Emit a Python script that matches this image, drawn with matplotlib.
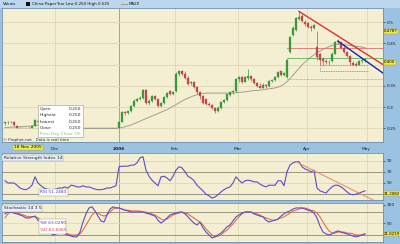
import matplotlib
matplotlib.use('Agg')
import matplotlib.pyplot as plt
from matplotlib.patches import Rectangle
import numpy as np

# ---------------- data ----------------
opens = [0.262,0.264,0.266,0.266,0.256,0.252,0.250,0.250,0.250,0.252,
         0.255,0.268,0.264,0.260,0.258,0.256,0.255,0.252,0.250,0.252,
         0.250,0.250,0.250,0.250,0.250,0.250,0.250,0.250,0.250,0.250,
         0.250,0.250,0.250,0.250,0.250,0.250,0.250,0.250,0.252,0.265,
         0.288,0.285,0.290,0.302,0.315,0.320,0.322,0.340,0.310,0.315,
         0.325,0.318,0.302,0.310,0.324,0.338,0.330,0.338,0.378,0.386,
         0.378,0.368,0.356,0.360,0.348,0.335,0.325,0.318,0.308,0.306,
         0.298,0.290,0.298,0.312,0.316,0.328,0.336,0.338,0.365,0.370,
         0.360,0.368,0.372,0.366,0.356,0.350,0.346,0.352,0.350,0.362,
         0.364,0.370,0.384,0.376,0.370,0.430,0.470,0.482,0.508,0.515,
         0.500,0.498,0.488,0.486,0.442,0.425,0.412,0.408,0.405,0.408,
         0.426,0.452,0.452,0.440,0.430,0.420,0.404,0.402,0.400,0.408,
         0.410]
highs = [0.266,0.268,0.268,0.268,0.258,0.254,0.252,0.250,0.254,0.256,
         0.272,0.270,0.266,0.262,0.260,0.258,0.256,0.254,0.252,0.252,
         0.252,0.250,0.252,0.250,0.250,0.250,0.250,0.250,0.250,0.250,
         0.250,0.250,0.250,0.250,0.250,0.250,0.250,0.250,0.268,0.290,
         0.292,0.292,0.305,0.318,0.322,0.326,0.342,0.342,0.318,0.328,
         0.328,0.320,0.312,0.326,0.336,0.340,0.338,0.382,0.388,0.388,
         0.384,0.372,0.362,0.362,0.350,0.338,0.328,0.320,0.312,0.308,
         0.300,0.302,0.314,0.320,0.332,0.338,0.340,0.368,0.374,0.372,
         0.372,0.390,0.374,0.368,0.358,0.356,0.356,0.354,0.364,0.366,
         0.372,0.384,0.386,0.382,0.412,0.468,0.490,0.512,0.525,0.518,
         0.505,0.500,0.494,0.496,0.480,0.428,0.418,0.412,0.410,0.430,
         0.456,0.460,0.454,0.444,0.432,0.422,0.408,0.406,0.410,0.414,
         0.416]
lows = [0.258,0.260,0.262,0.256,0.250,0.250,0.250,0.250,0.250,0.250,
        0.255,0.262,0.258,0.256,0.255,0.252,0.250,0.250,0.250,0.250,
        0.250,0.250,0.250,0.250,0.250,0.250,0.250,0.250,0.250,0.250,
        0.250,0.250,0.250,0.250,0.250,0.250,0.250,0.250,0.252,0.265,
        0.282,0.283,0.288,0.300,0.312,0.316,0.320,0.308,0.306,0.312,
        0.316,0.300,0.300,0.308,0.322,0.328,0.328,0.336,0.374,0.376,
        0.366,0.352,0.352,0.346,0.332,0.320,0.308,0.306,0.302,0.296,
        0.286,0.288,0.296,0.310,0.314,0.326,0.332,0.336,0.360,0.356,
        0.358,0.364,0.362,0.354,0.348,0.344,0.344,0.346,0.348,0.358,
        0.362,0.368,0.374,0.372,0.368,0.428,0.468,0.478,0.505,0.500,
        0.490,0.486,0.480,0.484,0.410,0.400,0.400,0.402,0.400,0.406,
        0.424,0.448,0.436,0.428,0.418,0.400,0.398,0.396,0.398,0.404,
        0.406]
closes = [0.264,0.266,0.264,0.258,0.252,0.250,0.252,0.250,0.252,0.255,
          0.270,0.264,0.260,0.258,0.256,0.255,0.252,0.250,0.252,0.250,
          0.250,0.250,0.250,0.250,0.250,0.250,0.250,0.250,0.250,0.250,
          0.250,0.250,0.250,0.250,0.250,0.250,0.250,0.250,0.265,0.288,
          0.285,0.290,0.302,0.315,0.320,0.322,0.340,0.310,0.315,0.325,
          0.318,0.302,0.310,0.324,0.334,0.330,0.336,0.378,0.384,0.378,
          0.368,0.355,0.360,0.348,0.335,0.325,0.310,0.308,0.305,0.298,
          0.290,0.298,0.312,0.316,0.330,0.336,0.338,0.365,0.370,0.360,
          0.370,0.372,0.365,0.356,0.350,0.346,0.352,0.350,0.362,0.364,
          0.370,0.382,0.376,0.380,0.410,0.465,0.485,0.510,0.512,0.502,
          0.496,0.488,0.486,0.494,0.418,0.410,0.408,0.405,0.406,0.426,
          0.452,0.455,0.440,0.430,0.420,0.405,0.400,0.400,0.408,0.410,
          0.412]
ma20 = [0.252,0.252,0.253,0.253,0.253,0.254,0.254,0.255,0.255,0.256,
        0.257,0.257,0.257,0.256,0.256,0.255,0.255,0.254,0.254,0.253,
        0.253,0.252,0.252,0.251,0.251,0.251,0.250,0.250,0.250,0.250,
        0.250,0.250,0.250,0.250,0.250,0.250,0.250,0.250,0.251,0.252,
        0.254,0.256,0.258,0.261,0.264,0.267,0.270,0.273,0.276,0.279,
        0.282,0.285,0.288,0.291,0.294,0.298,0.302,0.306,0.310,0.314,
        0.318,0.321,0.324,0.327,0.329,0.331,0.332,0.333,0.333,0.333,
        0.333,0.333,0.333,0.333,0.333,0.333,0.333,0.334,0.335,0.335,
        0.336,0.337,0.338,0.339,0.339,0.340,0.341,0.342,0.343,0.344,
        0.345,0.347,0.350,0.354,0.360,0.367,0.375,0.383,0.391,0.399,
        0.406,0.412,0.418,0.423,0.428,0.432,0.436,0.439,0.442,0.445,
        0.447,0.448,0.448,0.447,0.446,0.445,0.444,0.443,0.442,0.441,
        0.440]
rsi = [54,50,50,50,46,41,39,38,41,46,
       61,50,45,41,39,38,38,39,41,41,
       43,41,46,45,43,43,45,43,43,41,
       39,38,38,39,41,41,43,45,79,80,
       80,80,82,82,86,95,97,73,62,55,
       50,45,61,62,59,54,62,73,79,77,
       70,62,59,54,46,41,36,30,27,23,
       25,29,34,38,41,43,50,61,55,50,
       54,55,54,52,52,48,45,43,46,46,
       46,54,54,45,70,82,86,88,88,79,
       75,73,70,73,41,36,34,32,38,43,
       46,46,43,39,34,30,29,30,32,34,
       36]
stoch_k = [76,81,81,78,76,73,70,65,65,68,
           70,59,54,46,35,27,19,22,24,24,
           22,19,16,14,14,27,54,76,92,95,
           84,70,57,54,73,89,95,92,92,89,
           86,84,81,81,81,81,81,78,76,73,
           70,59,51,57,65,73,76,78,81,81,
           76,68,59,51,46,54,38,27,19,11,
           14,19,24,32,41,46,57,68,73,78,
           81,81,81,76,73,70,68,59,54,57,
           59,62,70,76,81,84,89,92,92,92,
           89,86,84,78,65,43,27,22,19,22,
           27,30,27,24,22,19,16,14,16,19,
           22]
stoch_d = [65,76,81,81,78,76,73,70,68,68,
           68,65,59,54,46,38,30,24,24,24,
           22,22,19,19,19,22,32,46,59,73,
           81,78,73,70,73,81,89,92,92,89,
           86,86,84,84,84,84,81,81,78,76,
           73,68,62,59,62,68,73,76,78,81,
           78,76,70,65,59,54,46,35,27,19,
           14,16,19,27,32,41,49,59,68,76,
           81,81,81,78,76,73,68,65,62,59,
           59,62,65,68,73,78,84,86,89,92,
           92,89,86,84,78,68,54,41,30,24,
           24,27,27,27,24,24,22,19,19,19,
           22]

month_pos = [16.5, 38, 56.5, 77.5, 100.5, 120.5]
month_labels = ['Dec', '2006', 'Feb', 'Mar', 'Apr', 'May']
price_ticks = [0.25, 0.3, 0.35, 0.45, 0.5]
price_tick_labels = ['0.25', '0.3', '0.35', '0.45', '0.5']
price_grid = [0.25, 0.3, 0.35, 0.4, 0.45, 0.5]

# user-drawn trend lines (index, price)
red_trend = [(98, 0.525), (126, 0.400)]
blue_trend = [(111, 0.455), (126, 0.380)]
red_level = 0.438
green_level = 0.415
green_dotted_level = 0.365
box_top, box_bottom, box_x0, box_x1 = 0.400, 0.386, 105, 121
rsi_trend = [(97, 88), (124, 16)]

# ---------------- figure ----------------
W, H = 400, 244
fig = plt.figure(figsize=(4.0, 2.44), dpi=100)
fig.patch.set_facecolor('#9cc2e2')

def fx(px):
    return px / W

def fy(py):
    return 1 - py / H

FS = 3.2
HFS = 2.9
PANEL = '#f4eed2'
GRID = '#e0d8b4'
DARK = '#8a8672'

def make_axes(top, bottom):
    ax = fig.add_axes([fx(2), fy(bottom), fx(383) - fx(2), fy(top) - fy(bottom)])
    ax.set_facecolor(PANEL)
    for s in ax.spines.values():
        s.set_color('#6f8fb0')
        s.set_linewidth(0.6)
    ax.set_xlim(-1, 126)
    ax.yaxis.tick_right()
    ax.tick_params(axis='y', labelsize=FS, length=1.5, width=0.4, pad=1, colors='#202020')
    ax.tick_params(axis='x', length=0)
    for i, m in enumerate(month_pos):
        ax.axvline(m, color=('#a8a48c' if month_labels[i] == '2006' else GRID),
                   lw=(0.7 if month_labels[i] == '2006' else 0.6), zorder=0)
    return ax

# title bar
fig.patches.append(Rectangle((0, fy(8)), 1, 1 - fy(8), transform=fig.transFigure,
                             facecolor='#bcd6ee', edgecolor='none'))
fig.text(fx(3), fy(4), 'Values', fontsize=2.9, va='center', ha='left', color='#101010')
fig.patches.append(Rectangle((fx(26), fy(5.5)), fx(4), fy(2.5) - fy(5.5), transform=fig.transFigure,
                             facecolor='#101010', edgecolor='none'))
fig.text(fx(31.5), fy(4), 'China Paper', fontsize=2.9, va='center', ha='left', color='#101010')
fig.text(fx(56), fy(4), 'Year Low 0.250 High 0.525', fontsize=2.9, va='center', ha='left', color='#101010')
fig.lines.append(plt.Line2D([fx(121), fx(127)], [fy(4), fy(4)], transform=fig.transFigure,
                            color='#a0a090', lw=0.8))
fig.text(fx(129), fy(4), 'MA20', fontsize=2.9, va='center', ha='left', color='#101010')

# ---------------- price panel ----------------
axp = make_axes(8, 142)
axp.set_ylim(0.218, 0.533)
axp.set_yticks(price_ticks)
axp.set_yticklabels(price_tick_labels)
for t in price_grid:
    axp.axhline(t, color=GRID, lw=0.6, zorder=0)
axp.set_xticks(month_pos)
axp.set_xticklabels(month_labels)
axp.tick_params(axis='x', labelsize=FS, pad=3.5, colors='#202020')
for lab in axp.get_xticklabels():
    if lab.get_text() == '2006':
        lab.set_fontweight('bold')

x = np.arange(len(closes))
o = np.array(opens); c = np.array(closes); hi = np.array(highs); lo = np.array(lows)
cols = np.where(c > o, '#3a9a3a', np.where(c < o, '#c24848', '#505050'))
axp.vlines(x, lo, hi, colors=cols, lw=0.5, zorder=3)
bottoms = np.minimum(o, c)
heights = np.maximum(np.abs(c - o), 0.0016)
axp.bar(x, heights, bottom=bottoms, width=0.7, color=cols, edgecolor=cols, lw=0.2, zorder=4)
axp.plot(x, ma20, color='#a0a090', lw=0.7, zorder=2)

# trend lines & levels
axp.plot([p[0] for p in red_trend], [p[1] for p in red_trend], color='#e03030', lw=1.0, zorder=5)
axp.plot([p[0] for p in blue_trend], [p[1] for p in blue_trend], color='#2020b0', lw=1.0, zorder=5)
axp.plot([94, 126], [red_level, red_level], color='#e07070', lw=0.6, zorder=2)
axp.plot([94, 126], [green_level, green_level], color='#60b060', lw=0.6, zorder=2)
axp.plot([94, 126], [green_dotted_level, green_dotted_level], color='#70a870', lw=0.5,
         ls=(0, (1, 1)), zorder=2)
axp.plot([box_x0, box_x1], [box_top, box_top], color='#8080c0', lw=0.5, ls=(0, (1.5, 1)), zorder=2)
axp.plot([box_x0, box_x1], [box_bottom, box_bottom], color='#e05050', lw=0.5, ls=(0, (1.5, 1)), zorder=2)
axp.plot([box_x0, box_x0], [box_bottom, box_top], color='#8080c0', lw=0.5, ls=(0, (1, 1)), zorder=2)

# info box
axp.add_patch(Rectangle((0.0945, 0.037), 0.118, 0.24, transform=axp.transAxes,
                        facecolor='white', edgecolor='#9a9a9a', lw=0.4, zorder=8))
info = [('Open', '0.250', '#303030'), ('Highest', '0.250', '#303030'),
        ('Lowest', '0.250', '#303030'), ('Close', '0.250', '#303030'),
        ('Prev Day Close', '0%', '#80c080')]
for k, (lab, val, colr) in enumerate(info):
    yy = 0.245 - k * 0.047
    axp.text(0.1, yy, lab, transform=axp.transAxes, fontsize=FS, va='center', ha='left',
             color=colr, zorder=9)
    axp.text(0.208, yy, val, transform=axp.transAxes, fontsize=FS, va='center', ha='right',
             color=colr, zorder=9)
axp.text(0.003, 0.003, '\u00a9 Prophet.net   Data is real time', transform=axp.transAxes,
         fontsize=FS - 0.3, va='bottom', ha='left', color='#303030', zorder=9)

# right highlights
hl = dict(boxstyle='square,pad=0.12', facecolor='#f4e83a', edgecolor='#b09a20', lw=0.3)
axp.text(1.003, 0.4787, '0.4787', transform=axp.get_yaxis_transform(), fontsize=HFS,
         va='center', ha='left', bbox=hl, zorder=10, clip_on=False)
axp.text(1.003, 0.405, '0.400', transform=axp.get_yaxis_transform(), fontsize=HFS,
         va='center', ha='left', bbox=hl, zorder=10, clip_on=False)

# date highlight
fig.text(fx(14), fy(147.5), '18 Nov 2005', fontsize=FS, va='center', ha='left',
         bbox=dict(boxstyle='square,pad=0.2', facecolor='#f4f040', edgecolor='#b0a020', lw=0.3))

# ---------------- RSI panel ----------------
axr = make_axes(153, 200)
axr.set_ylim(19.6, 103.6)
axr.set_yticks([90, 70, 50])
axr.set_yticklabels(['90', '70', '50'])
axr.set_xticks([])
for lv in (90, 50):
    axr.axhline(lv, color=GRID, lw=0.6, zorder=0)
for lv in (70, 30):
    axr.axhline(lv, color=DARK, lw=0.6, zorder=1)
axr.plot(x, rsi, color='#5a4ec8', lw=0.8, zorder=3)
axr.plot([p[0] for p in rsi_trend], [p[1] for p in rsi_trend], color='#f08070', lw=0.7, zorder=4)
lbl = dict(boxstyle='square,pad=0.25', facecolor='#e6eef6', edgecolor='#8a9ab0', lw=0.3)
axr.text(0.004, 0.9, 'Relative Strength Index 14', transform=axr.transAxes, fontsize=FS,
         va='center', ha='left', color='#202040', bbox=lbl, zorder=9)
axr.text(0.1, 0.16, 'RSI 51.2483', transform=axr.transAxes, fontsize=FS, va='center',
         ha='left', color='#4040c0', zorder=9,
         bbox=dict(boxstyle='square,pad=0.25', facecolor='white', edgecolor='#909090', lw=0.3))
axr.text(1.003, 31, '31.2082', transform=axr.get_yaxis_transform(), fontsize=HFS,
         va='center', ha='left', bbox=hl, zorder=10, clip_on=False)

# ---------------- Stochastic panel ----------------
axs = make_axes(203, 242)
axs.set_ylim(0, 105.4)
axs.set_yticks([100, 50])
axs.set_yticklabels(['100', '50'])
axs.set_xticks([])
axs.axhline(50, color=GRID, lw=0.6, zorder=0)
for lv in (80, 20):
    axs.axhline(lv, color=DARK, lw=0.6, zorder=1)
axs.plot(x, stoch_d, color='#e85a40', lw=0.7, zorder=3)
axs.plot(x, stoch_k, color='#5a4ec8', lw=0.8, zorder=4)
axs.text(0.004, 0.86, 'Stochastic 14 3 5', transform=axs.transAxes, fontsize=FS,
         va='center', ha='left', color='#202040', bbox=lbl, zorder=9)
axs.add_patch(Rectangle((0.097, 0.2), 0.07, 0.4, transform=axs.transAxes,
                        facecolor='white', edgecolor='#909090', lw=0.3, zorder=9))
axs.text(0.1, 0.5, '%K 63.0290', transform=axs.transAxes, fontsize=FS, va='center',
         ha='left', color='#4040c0', zorder=10)
axs.text(0.1, 0.3, '%D 62.6065', transform=axs.transAxes, fontsize=FS, va='center',
         ha='left', color='#e04030', zorder=10)
axs.text(1.003, 21.6, '21.6219', transform=axs.get_yaxis_transform(), fontsize=HFS,
         va='center', ha='left', bbox=hl, zorder=10, clip_on=False)

fig.savefig('out.png', dpi=100, facecolor=fig.get_facecolor())
